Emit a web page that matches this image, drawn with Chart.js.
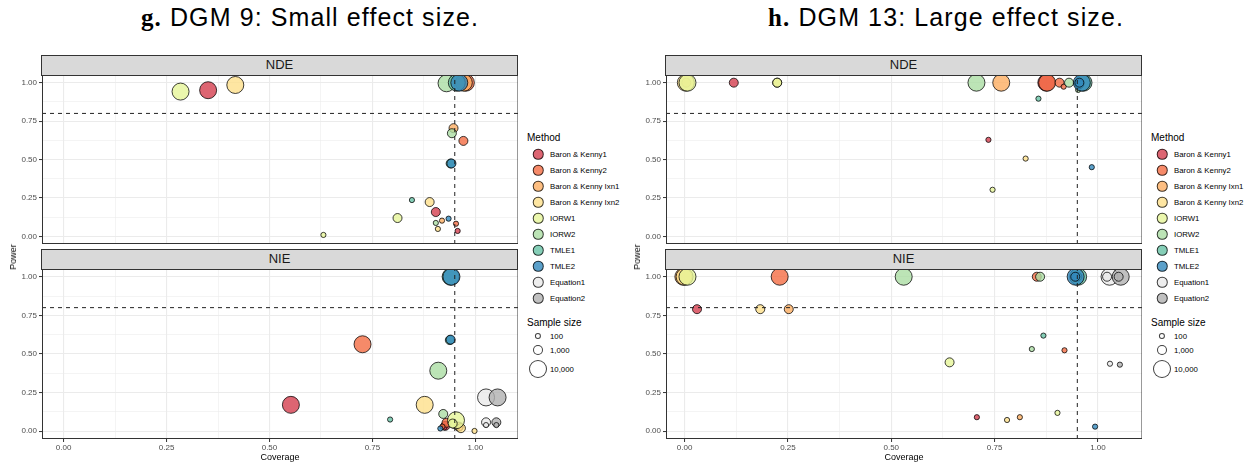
<!DOCTYPE html>
<html>
<head>
<meta charset="utf-8">
<script src="https://cdn.jsdelivr.net/npm/chart.js@4/dist/chart.umd.min.js"></script>
<style>
  body { margin: 0; width: 1249px; height: 463px; background: #fff; position: relative; overflow: hidden;
         font-family: "Liberation Sans", Arial, sans-serif; }
  .title { position: absolute; top: 3px; font-size: 25px; letter-spacing: 1.1px; color: #000; white-space: nowrap; transform: translateX(-50%); }
  .title b { font-family: "Liberation Serif", serif; font-weight: bold; }
  .strip { position: absolute; background: #D9D9D9; border: 1px solid #333; box-sizing: border-box;
           text-align: center; font-size: 13px; color: #1A1A1A; line-height: 18px; }
  .ylab { position: absolute; font-size: 9px; color: #000; transform: translate(-50%, -50%) rotate(-90deg); white-space: nowrap; }
  .lgt { position: absolute; font-size: 10px; color: #000; transform: translateY(-50%); white-space: nowrap; }
  .lgl { position: absolute; font-size: 7.8px; color: #000; transform: translateY(-50%); white-space: nowrap; }
  .dot { position: absolute; border-radius: 50%; box-sizing: border-box; border: 1px solid rgba(0,0,0,0.75);
         transform: translate(-50%, -50%); }
  canvas { position: absolute; }
</style>
</head>
<body>
<div class="title" style="left:310px"><b>g.</b> DGM 9: Small effect size.</div>
<div class="title" style="left:946px"><b>h.</b> DGM 13: Large effect size.</div>

<canvas id="gNde" width="518" height="169" style="left:0;top:75px"></canvas>
<canvas id="gNie" width="518" height="194" style="left:0;top:269px"></canvas>
<canvas id="hNde" width="518" height="169" style="left:624px;top:75px"></canvas>
<canvas id="hNie" width="518" height="194" style="left:624px;top:269px"></canvas>

<div id="deco"></div>

<script>
// methods and colours (Spectral + greys)
const methods = ["Baron & Kenny1", "Baron & Kenny2", "Baron & Kenny Ixn1", "Baron & Kenny Ixn2",
  "IORW1", "IORW2", "TMLE1", "TMLE2", "Equation1", "Equation2"];
const methodColors = ["#D53E4F", "#F46D43", "#FDAE61", "#FEE08B", "#E6F598", "#ABDDA4",
  "#66C2A5", "#3288BD", "#EAEAEA", "#B0B0B0"];
const sampleSizes = [100, 1000, 10000];
const sampleLabels = ["100", "1,000", "10,000"];
const yTickLabels = ["0.00", "0.25", "0.50", "0.75", "1.00"];
const xTickLabels = ["0.00", "0.25", "0.50", "0.75", "1.00"];
const powerTarget = 0.8;
const coverageTarget = 0.95;

// rows: [method index, coverage, power, sample size]
const gNDE = [
  [0, 0.351, 0.951, 10000], [0, 0.904, 0.158, 1000], [0, 0.957, 0.035, 100],
  [1, 0.977, 1.000, 10000], [1, 0.971, 0.621, 1000], [1, 0.953, 0.082, 100],
  [2, 0.972, 1.000, 10000], [2, 0.947, 0.704, 1000], [2, 0.919, 0.102, 100],
  [3, 0.417, 0.985, 10000], [3, 0.889, 0.223, 1000], [3, 0.909, 0.048, 100],
  [4, 0.284, 0.942, 10000], [4, 0.811, 0.119, 1000], [4, 0.631, 0.009, 100],
  [5, 0.930, 0.996, 10000], [5, 0.943, 0.671, 1000], [5, 0.904, 0.087, 100],
  [6, 0.955, 1.000, 10000], [6, 0.940, 0.474, 1000], [6, 0.846, 0.236, 100],
  [7, 0.961, 1.000, 10000], [7, 0.942, 0.474, 1000], [7, 0.935, 0.115, 100]
];
const gNIE = [
  [0, 0.552, 0.171, 10000], [0, 0.927, 0.035, 1000], [0, 0.925, 0.025, 100],
  [1, 0.726, 0.563, 10000], [1, 0.930, 0.055, 1000], [1, 0.920, 0.030, 100],
  [2, 0.960, 0.030, 1000], [2, 0.963, 0.022, 100],
  [3, 0.877, 0.171, 10000], [3, 0.965, 0.020, 1000], [3, 0.998, 0.002, 100],
  [4, 0.953, 0.071, 10000], [4, 0.945, 0.050, 1000],
  [5, 0.910, 0.392, 10000], [5, 0.922, 0.112, 1000],
  [6, 0.940, 1.000, 10000], [6, 0.938, 0.590, 1000], [6, 0.793, 0.076, 100],
  [7, 0.942, 1.000, 10000], [7, 0.940, 0.593, 1000], [7, 0.915, 0.018, 100],
  [8, 1.026, 0.219, 10000], [8, 1.026, 0.058, 1000], [8, 1.026, 0.040, 100],
  [9, 1.054, 0.219, 10000], [9, 1.051, 0.058, 1000], [9, 1.051, 0.040, 100]
];
const hNDE = [
  [0, 0.875, 1.000, 10000], [0, 0.119, 1.000, 1000], [0, 0.735, 0.628, 100],
  [1, 0.877, 1.000, 10000], [1, 0.907, 1.000, 1000], [1, 0.917, 0.974, 100],
  [2, 0.766, 1.000, 10000], [2, 0.004, 1.000, 1000],
  [3, 0.003, 1.000, 10000], [3, 0.224, 1.000, 1000], [3, 0.825, 0.506, 100],
  [4, 0.007, 1.000, 10000], [4, 0.224, 1.000, 1000], [4, 0.745, 0.303, 100],
  [5, 0.706, 1.000, 10000], [5, 0.930, 1.000, 1000], [5, 0.952, 0.953, 100],
  [6, 0.965, 1.000, 10000], [6, 0.955, 0.990, 1000], [6, 0.856, 0.896, 100],
  [7, 0.961, 1.000, 10000], [7, 0.955, 1.000, 1000], [7, 0.985, 0.450, 100]
];
const hNIE = [
  [0, 0.030, 0.790, 1000], [0, 0.707, 0.091, 100],
  [1, 0.230, 1.000, 10000], [1, 0.852, 1.000, 1000], [1, 0.919, 0.524, 100],
  [2, -0.003, 1.000, 10000], [2, 0.252, 0.790, 1000], [2, 0.811, 0.091, 100],
  [3, 0.000, 1.000, 10000], [3, 0.183, 0.790, 1000], [3, 0.780, 0.073, 100],
  [4, 0.007, 1.000, 10000], [4, 0.641, 0.446, 1000], [4, 0.902, 0.119, 100],
  [5, 0.530, 1.000, 10000], [5, 0.860, 1.000, 1000], [5, 0.840, 0.532, 100],
  [6, 0.952, 1.000, 10000], [6, 0.950, 1.000, 1000], [6, 0.868, 0.619, 100],
  [7, 0.946, 1.000, 10000], [7, 0.945, 1.000, 1000], [7, 0.993, 0.030, 100],
  [8, 1.028, 1.000, 10000], [8, 1.022, 1.000, 1000], [8, 1.029, 0.437, 100],
  [9, 1.055, 1.000, 10000], [9, 1.050, 1.000, 1000], [9, 1.053, 0.431, 100]
];

const gRange = [-0.0525, 1.1036];
const hRange = [-0.045, 1.1065];
const yRange = [-0.05, 1.05];

const FONT = "'Liberation Sans', Arial, sans-serif";

function radius(n) { return n >= 10000 ? 8.5 : n >= 1000 ? 4.5 : 2.6; }
function rgba(hex, a) {
  const v = parseInt(hex.slice(1), 16);
  return `rgba(${v >> 16},${(v >> 8) & 255},${v & 255},${a})`;
}
const isMajor = v => Math.abs(v * 4 - Math.round(v * 4)) < 1e-6;
const gridTicks = [0, 0.125, 0.25, 0.375, 0.5, 0.625, 0.75, 0.875, 1];

// draws the dark panel frame over everything
const panelBorder = {
  id: 'panelBorder',
  afterDraw(chart) {
    const a = chart.chartArea, c = chart.ctx;
    c.save();
    c.strokeStyle = '#333333';
    c.lineWidth = 1;
    c.strokeRect(a.left + 0.5, a.top, a.right - a.left - 0.5, a.bottom - a.top - 0.5);
    c.restore();
  }
};

function facet(id, rows, xr, showX) {
  const datasets = [];
  methods.forEach((m, i) => {
    const pts = rows.filter(r => r[0] === i).map(r => ({ x: r[1], y: r[2], r: radius(r[3]) }));
    if (!pts.length) return;
    datasets.push({
      type: 'bubble', label: m, data: pts,
      backgroundColor: rgba(methodColors[i], 0.8),
      borderColor: 'rgba(0,0,0,0.75)', borderWidth: 1, hoverBorderWidth: 1,
      order: 20 - i
    });
  });
  const dash = { type: 'line', borderColor: '#222', borderWidth: 1, borderDash: [4, 4],
                 pointRadius: 0, fill: false, order: 0 };
  datasets.push(Object.assign({ data: [{ x: xr[0], y: powerTarget }, { x: xr[1], y: powerTarget }] }, dash));
  datasets.push(Object.assign({ data: [{ x: coverageTarget, y: yRange[0] }, { x: coverageTarget, y: yRange[1] }] }, dash));

  const grid = {
    color: '#EBEBEB',
    lineWidth: c => (c.tick && isMajor(c.tick.value)) ? 1.1 : 0.55,
    tickColor: c => (c.tick && isMajor(c.tick.value)) ? '#333333' : 'rgba(0,0,0,0)',
    tickLength: 3, tickWidth: 1
  };

  new Chart(document.getElementById(id), {
    type: 'bubble',
    data: { datasets },
    plugins: [panelBorder],
    options: {
      responsive: false, animation: false, events: [],
      layout: { padding: 0, autoPadding: false },
      plugins: { legend: { display: false }, tooltip: { enabled: false } },
      scales: {
        x: {
          type: 'linear', min: xr[0], max: xr[1],
          afterBuildTicks: s => { s.ticks = gridTicks.map(v => ({ value: v })); },
          afterFit: s => { s.height = showX ? 24 : 0; s.paddingLeft = 0; s.paddingRight = 0; },
          grid: Object.assign({}, grid, { drawTicks: showX }),
          border: { display: false },
          ticks: {
            display: showX, autoSkip: false, maxRotation: 0, padding: 1,
            color: '#4D4D4D', font: { size: 8, family: FONT },
            callback: v => isMajor(v) ? xTickLabels[Math.round(v * 4)] : ''
          },
          title: { display: showX, text: 'Coverage', color: '#000', font: { size: 9, family: FONT },
                   padding: { top: 0, bottom: 0 } }
        },
        y: {
          type: 'linear', min: yRange[0], max: yRange[1],
          afterBuildTicks: s => { s.ticks = gridTicks.map(v => ({ value: v })); },
          afterFit: s => { s.width = 42; s.paddingTop = 0; s.paddingBottom = 0; },
          grid: grid,
          border: { display: false },
          ticks: {
            autoSkip: false, padding: 2,
            color: '#4D4D4D', font: { size: 8, family: FONT },
            callback: v => isMajor(v) ? yTickLabels[Math.round(v * 4)] : ''
          }
        }
      }
    }
  });
}

facet('gNde', gNDE, gRange, false);
facet('gNie', gNIE, gRange, true);
facet('hNde', hNDE, hRange, false);
facet('hNie', hNIE, hRange, true);

// strips, axis title and legends (HTML)
const deco = document.getElementById('deco');
function add(cls, style, text) {
  const d = document.createElement('div');
  d.className = cls;
  Object.assign(d.style, style);
  if (text !== undefined) d.textContent = text;
  deco.appendChild(d);
  return d;
}
[0, 624].forEach(off => {
  add('strip', { left: (41 + off) + 'px', top: '55px', width: '477px', height: '21px' }, 'NDE');
  add('strip', { left: (41 + off) + 'px', top: '249px', width: '477px', height: '21px' }, 'NIE');
  add('ylab', { left: (13 + off) + 'px', top: '257px' }, 'Power');

  add('lgt', { left: (527 + off) + 'px', top: '137px' }, 'Method');
  methods.forEach((m, i) => {
    const y = 154 + 16 * i;
    add('dot', { left: (538 + off) + 'px', top: y + 'px', width: '10.5px', height: '10.5px',
                 background: rgba(methodColors[i], 0.8) });
    add('lgl', { left: (550 + off) + 'px', top: y + 'px' }, m);
  });
  add('lgt', { left: (527 + off) + 'px', top: '322px' }, 'Sample size');
  const sy = [336, 350, 368.5];
  sampleSizes.forEach((n, i) => {
    const d = 2 * radius(n) + 1;
    add('dot', { left: (538 + off) + 'px', top: sy[i] + 'px', width: d + 'px', height: d + 'px', background: '#fff' });
    add('lgl', { left: (550 + off) + 'px', top: sy[i] + 'px' }, sampleLabels[i]);
  });
});
</script>
</body>
</html>
